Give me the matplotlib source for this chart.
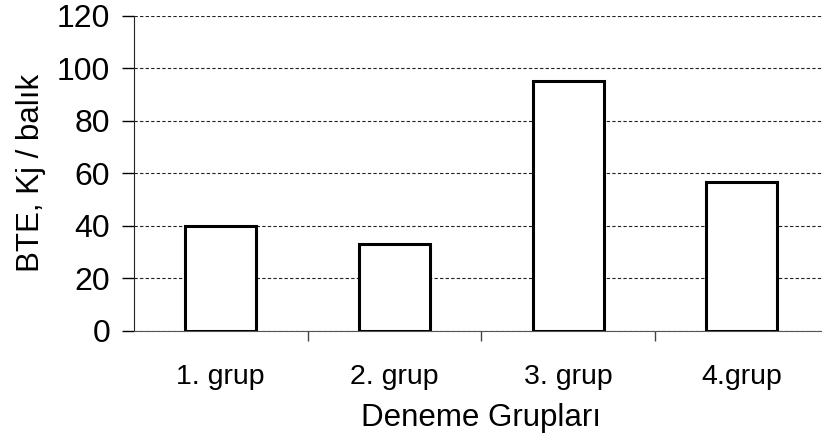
import matplotlib.pyplot as plt

plt.rcParams['font.family'] = ['Liberation Sans', 'DejaVu Sans']

gruplar = ['1. grup', '2. grup', '3. grup', '4.grup']
bte = [40, 33, 95.3, 56.5]
y_ticks = [0, 20, 40, 60, 80, 100, 120]

fig = plt.figure(figsize=(8.22, 4.47), dpi=100)
ax = fig.add_axes([0.163, 0.26, 0.845, 0.705])

x = range(len(gruplar))
ax.bar(x, bte, width=0.41, color='white', edgecolor='black', linewidth=2.2, zorder=3)

ax.set_xlim(-0.5, len(gruplar) - 0.5)
ax.set_ylim(0, 120)
ax.set_yticks(y_ticks)
ax.yaxis.grid(True, color='#222222', linestyle=(0, (3, 2)), linewidth=0.8)
ax.set_axisbelow(True)

# x ticks sit between categories, labels under the bars
ax.set_xticks([i + 0.5 for i in range(len(gruplar) - 1)])
ax.set_xticklabels([])
ax.set_xticks(list(x), minor=True)
ax.set_xticklabels(gruplar, minor=True, fontsize=20.5)
ax.tick_params(axis='x', which='minor', length=0, pad=24)
ax.tick_params(axis='x', which='major', length=7, width=1, color='#444444')
ax.tick_params(axis='y', length=9, width=1, pad=8, labelsize=23)

ax.spines['top'].set_visible(False)
ax.spines['right'].set_visible(False)
ax.spines['left'].set_color('#222222')
ax.spines['bottom'].set_color('#555555')

ax.set_ylabel('BTE, Kj / balık', fontsize=22.5, labelpad=8)
ax.set_xlabel('Deneme Grupları', fontsize=22.5, labelpad=9)

fig.savefig('out.png', dpi=100)
